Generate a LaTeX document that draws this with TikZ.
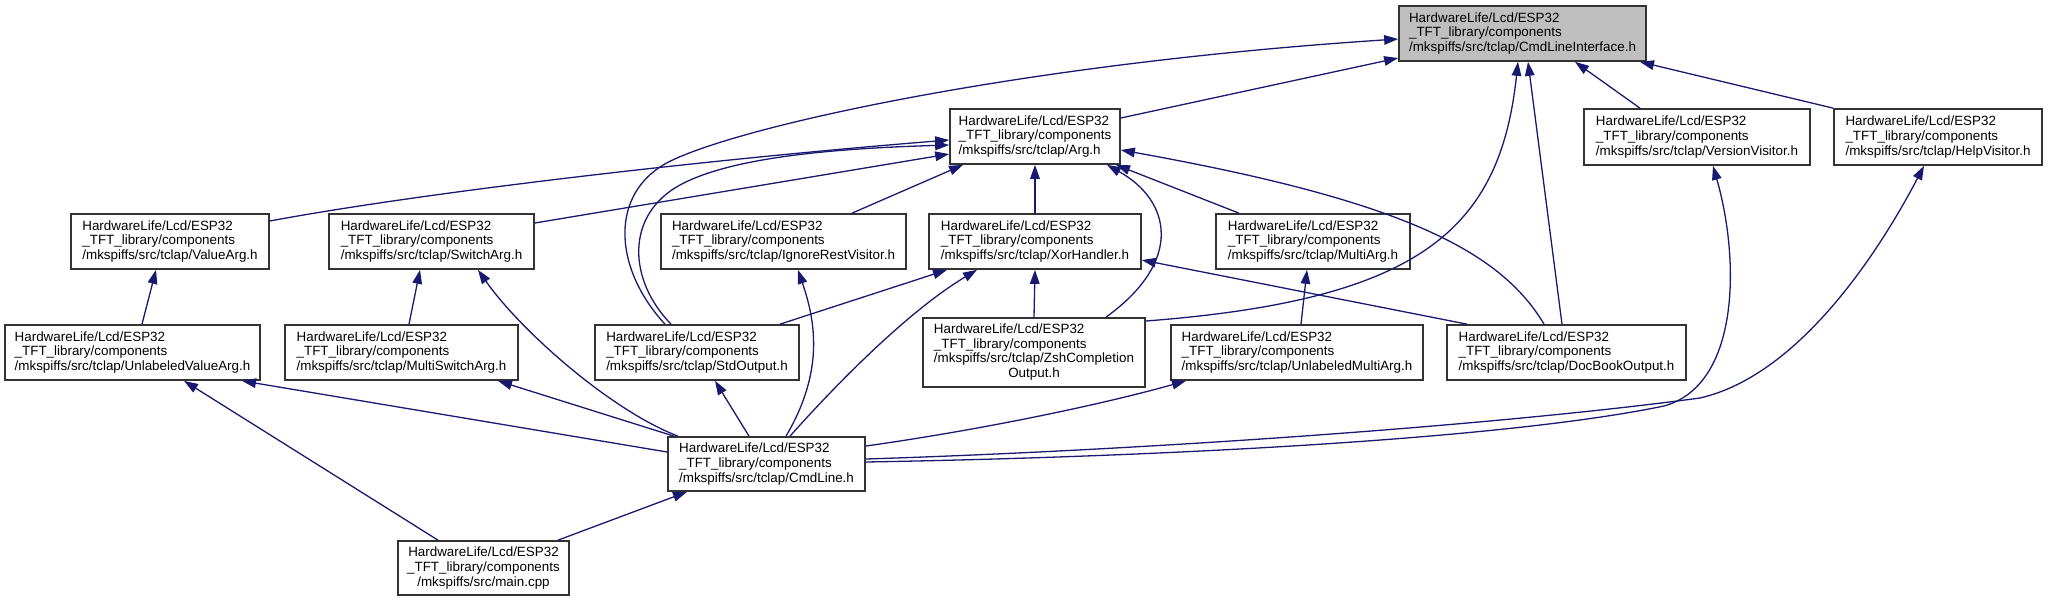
\documentclass[tikz,border=0pt]{standalone}
\usepackage{fontspec}
\setmainfont{Liberation Sans}
\usetikzlibrary{arrows.meta}
\definecolor{edgecol}{HTML}{191970}
\definecolor{clifill}{HTML}{BFBFBF}
\begin{document}
\begin{tikzpicture}[x=0.5pt,y=-0.5pt,
  box/.style={draw=black!80, line width=0.85pt, fill=white, align=left, inner sep=1pt,
              minimum height=27.5pt, font=\fontsize{6.7}{7.35}\selectfont},
  edge/.style={draw=edgecol, line width=0.65pt, -{Triangle[length=7pt,width=4.8pt]}}]
\useasboundingbox (0,0) rectangle (2053,601);

% nodes
\node[box, fill=clifill, minimum width=123.5pt] (cli) at (1522.5,33.5) {HardwareLife/Lcd/ESP32\\\_TFT\_library/components\\/mkspiffs/src/tclap/CmdLineInterface.h};
\node[box, minimum width=85pt] (arg) at (1035,136.5) {HardwareLife/Lcd/ESP32\\\_TFT\_library/components\\/mkspiffs/src/tclap/Arg.h};
\node[box, minimum width=113pt, minimum height=28pt] (vv) at (1697,137) {HardwareLife/Lcd/ESP32\\\_TFT\_library/components\\/mkspiffs/src/tclap/VersionVisitor.h};
\node[box, minimum width=104pt, minimum height=28pt] (hv) at (1938,137) {HardwareLife/Lcd/ESP32\\\_TFT\_library/components\\/mkspiffs/src/tclap/HelpVisitor.h};
\node[box, minimum width=99pt] (valuearg) at (170,241.5) {HardwareLife/Lcd/ESP32\\\_TFT\_library/components\\/mkspiffs/src/tclap/ValueArg.h};
\node[box, minimum width=102.5pt] (switcharg) at (431.5,241.5) {HardwareLife/Lcd/ESP32\\\_TFT\_library/components\\/mkspiffs/src/tclap/SwitchArg.h};
\node[box, minimum width=122.5pt] (irv) at (783.5,241.5) {HardwareLife/Lcd/ESP32\\\_TFT\_library/components\\/mkspiffs/src/tclap/IgnoreRestVisitor.h};
\node[box, minimum width=106pt] (xor) at (1035,241.5) {HardwareLife/Lcd/ESP32\\\_TFT\_library/components\\/mkspiffs/src/tclap/XorHandler.h};
\node[box, minimum width=97pt] (multiarg) at (1313,241.5) {HardwareLife/Lcd/ESP32\\\_TFT\_library/components\\/mkspiffs/src/tclap/MultiArg.h};
\node[box, minimum width=127.5pt] (uva) at (132.5,352.5) {HardwareLife/Lcd/ESP32\\\_TFT\_library/components\\/mkspiffs/src/tclap/UnlabeledValueArg.h};
\node[box, minimum width=116.5pt] (msa) at (401.5,352.5) {HardwareLife/Lcd/ESP32\\\_TFT\_library/components\\/mkspiffs/src/tclap/MultiSwitchArg.h};
\node[box, minimum width=102pt] (stdout) at (697,352.5) {HardwareLife/Lcd/ESP32\\\_TFT\_library/components\\/mkspiffs/src/tclap/StdOutput.h};
\node[box, minimum width=111pt, minimum height=34.5pt] (zsh) at (1034,352.5) {\begin{tabular}{@{}l@{}}HardwareLife/Lcd/ESP32\\\_TFT\_library/components\\/mkspiffs/src/tclap/ZshCompletion\\\multicolumn{1}{@{}c@{}}{Output.h}\end{tabular}};
\node[box, minimum width=126pt] (uma) at (1297,352.5) {HardwareLife/Lcd/ESP32\\\_TFT\_library/components\\/mkspiffs/src/tclap/UnlabeledMultiArg.h};
\node[box, minimum width=119.5pt] (docbook) at (1566.5,352.5) {HardwareLife/Lcd/ESP32\\\_TFT\_library/components\\/mkspiffs/src/tclap/DocBookOutput.h};
\node[box, minimum width=98.5pt, minimum height=27pt] (cmdline) at (766.5,464) {HardwareLife/Lcd/ESP32\\\_TFT\_library/components\\/mkspiffs/src/tclap/CmdLine.h};
\node[box, align=center, minimum width=85.5pt, minimum height=27pt] (main) at (483.5,568) {HardwareLife/Lcd/ESP32\\\_TFT\_library/components\\/mkspiffs/src/main.cpp};

% edges into CmdLineInterface.h
\draw[edge] (arg.east |- 0,118) -- (cli.west |- 0,58);
\draw[edge] (stdout.north -| 665,0) .. controls (615,270) and (610,200) .. (660,167)
            .. controls (710,133) and (1000,65) .. (cli.west |- 0,39);
\draw[edge] (zsh.east |- 0,321) .. controls (1420,300) and (1500,230) .. (cli.south -| 1518,0);
\draw[edge] (docbook.north -| 1562,0) -- (cli.south -| 1528,0);
\draw[edge] (vv.north -| 1640,0) -- (cli.south -| 1575,0);
\draw[edge] (hv.north west) -- (cli.south -| 1640,0);

% edges into Arg.h
\draw[edge] (stdout.north -| 671,0) .. controls (628,280) and (625,215) .. (680,185)
            .. controls (735,155) and (850,148) .. (arg.west |- 0,145);
\draw[edge] (valuearg.east |- 0,221) .. controls (420,193) and (700,160) .. (arg.west |- 0,140);
\draw[edge] (switcharg.east |- 0,223) -- (arg.west |- 0,154);
\draw[edge] (irv.north -| 852,0) -- (arg.south -| 963,0);
\draw[edge] (xor.north) -- (arg.south);
\draw[edge] (zsh.north -| 1106,0) .. controls (1185,260) and (1170,200) .. (arg.south -| 1107,0);
\draw[edge] (multiarg.north -| 1239,0) -- (arg.south -| 1116,0);
\draw[edge] (docbook.north -| 1544,0) .. controls (1500,250) and (1400,200) .. (arg.east |- 0,150);

% edges into XorHandler.h
\draw[edge] (stdout.north -| 780,0) -- (xor.south -| 947,0);
\draw[edge] (zsh.north) -- (xor.south);
\draw[edge] (docbook.north -| 1467,0) -- (xor.east |- 0,260);
\draw[edge] (cmdline.north -| 790,0) .. controls (840,380) and (910,310) .. (xor.south -| 977,0);

% other edges
\draw[edge] (uma.north -| 1301,0) -- (multiarg.south -| 1307,0);
\draw[edge] (uva.north -| 142,0) -- (valuearg.south -| 156,0);
\draw[edge] (msa.north -| 409,0) -- (switcharg.south -| 420,0);
\draw[edge] (cmdline.north -| 678,0) .. controls (610,410) and (520,330) .. (switcharg.south -| 478,0);
\draw[edge] (cmdline.north -| 674,0) -- (msa.south -| 498,0);
\draw[edge] (cmdline.west |- 0,452) -- (uva.south -| 242,0);
\draw[edge] (cmdline.north -| 749,0) -- (stdout.south -| 715,0);
\draw[edge] (cmdline.north -| 786,0) .. controls (825,370) and (815,320) .. (irv.south -| 798,0);
\draw[edge] (cmdline.east |- 0,446) .. controls (980,430) and (1100,405) .. (uma.south -| 1186,0);
\draw[edge] (cmdline.east |- 0,462) .. controls (1150,457) and (1500,440) .. (1664,406)
            .. controls (1740,385) and (1740,260) .. (vv.south -| 1713,0);
\draw[edge] (cmdline.east |- 0,459) .. controls (1150,450) and (1500,425) .. (1700,398)
            .. controls (1800,375) and (1880,250) .. (hv.south -| 1924,0);
\draw[edge] (main.north -| 558,0) -- (cmdline.south -| 687,0);
\draw[edge] (main.north -| 438,0) -- (uva.south -| 184,0);
\end{tikzpicture}
\end{document}
